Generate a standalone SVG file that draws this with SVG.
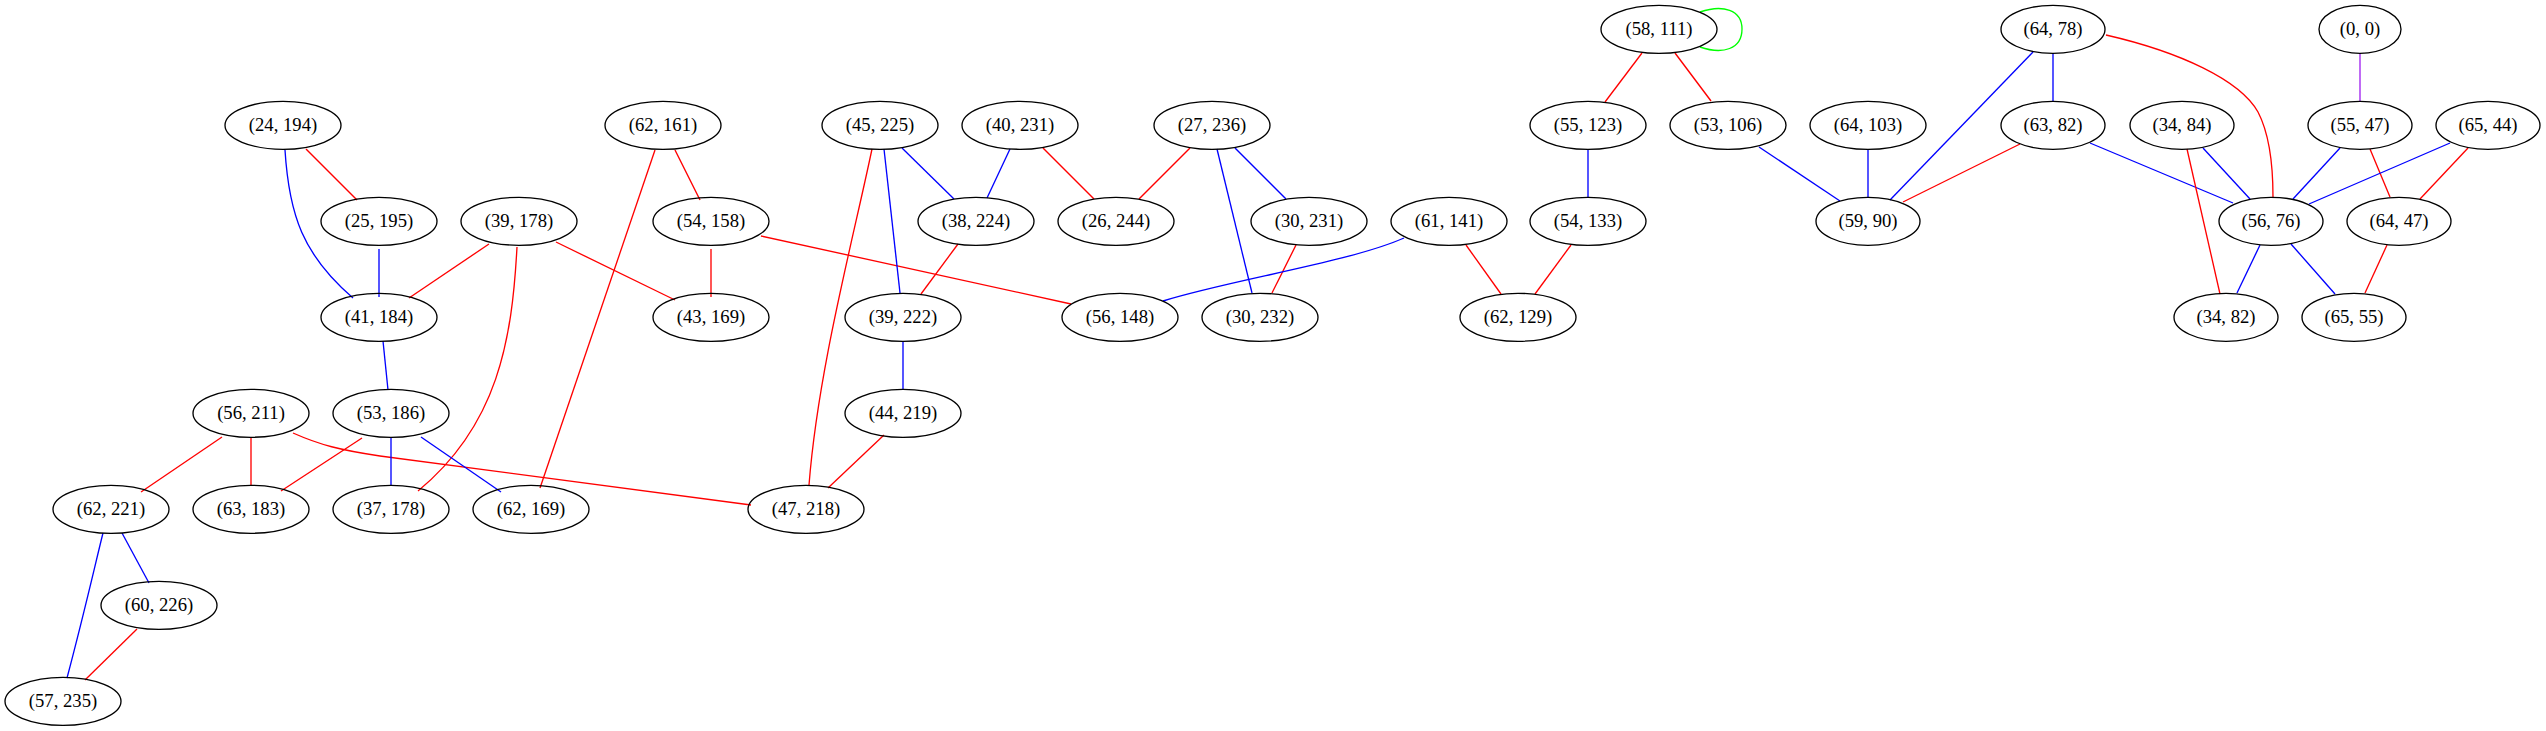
<svg xmlns="http://www.w3.org/2000/svg" width="2546" height="731" viewBox="0 0 2546 731">
<style>
.n ellipse{fill:none;stroke:#000;stroke-width:1.33}
.n text{font-family:"Liberation Serif","Times New Roman",serif;font-size:18.67px;text-anchor:middle;fill:#000}
#edges path{fill:none;stroke-width:1.33}
.r{stroke:#ff0000}.b{stroke:#0000ff}.g{stroke:#00ff00}.p{stroke:#a020f0}
</style>
<rect width="2546" height="731" fill="#fff"/>
<g id="edges">
<path class="r" d="M306,149L357,200"/>
<path class="b" d="M285,150C289,215 303,255 353,298"/>
<path class="b" d="M379,249L379,297"/>
<path class="r" d="M489,244L409,298"/>
<path class="r" d="M556,242L675,300"/>
<path class="r" d="M517,247C512,340 498,425 418,491"/>
<path class="r" d="M675,150L700,200"/>
<path class="r" d="M655,150L540,488"/>
<path class="r" d="M711,249L711,297"/>
<path class="r" d="M761,236L1071,304"/>
<path class="b" d="M383,341L388,390"/>
<path class="r" d="M222,437L141,492"/>
<path class="r" d="M251,437L251,485"/>
<path class="r" d="M293,433C320,445 340,450 380,456L751,505"/>
<path class="r" d="M362,438L281,491"/>
<path class="b" d="M391,437L391,485"/>
<path class="b" d="M421,437L501,492"/>
<path class="b" d="M122,533L149,583"/>
<path class="b" d="M103,533C95,565 85,610 67,678"/>
<path class="r" d="M137,629L85,680"/>
<path class="r" d="M872,149C853,240 818,370 809,485"/>
<path class="r" d="M884,435L828,488"/>
<path class="b" d="M902,148L954,199"/>
<path class="b" d="M884,149L900,293"/>
<path class="b" d="M1010,149L987,198"/>
<path class="r" d="M1043,148L1094,199"/>
<path class="r" d="M1190,148L1139,199"/>
<path class="b" d="M1235,148L1286,199"/>
<path class="b" d="M1217,149L1252,293"/>
<path class="r" d="M958,244L921,294"/>
<path class="r" d="M1296,245L1272,293"/>
<path class="b" d="M1404,238C1350,262 1230,280 1163,301"/>
<path class="r" d="M1466,245L1501,294"/>
<path class="r" d="M1571,245L1535,294"/>
<path class="b" d="M1588,149L1588,197"/>
<path class="r" d="M1642,53L1605,102"/>
<path class="r" d="M1675,53L1711,101"/>
<path class="b" d="M903,341L903,389"/>
<path class="g" d="M1700,12C1723,4 1742,10 1742,29C1742,49 1723,55 1700,47"/>
<path class="b" d="M1759,147L1840,201"/>
<path class="b" d="M1868,149L1868,197"/>
<path class="b" d="M2033,52L1890,200"/>
<path class="b" d="M2053,53L2053,101"/>
<path class="r" d="M2106,35C2180,52 2240,80 2258,112C2270,135 2273,165 2273,197"/>
<path class="r" d="M2020,144L1903,202"/>
<path class="b" d="M2090,143L2233,203"/>
<path class="b" d="M2203,148L2250,199"/>
<path class="r" d="M2187,149L2220,294"/>
<path class="b" d="M2340,148L2293,199"/>
<path class="r" d="M2370,149L2390,197"/>
<path class="b" d="M2450,143L2309,204"/>
<path class="r" d="M2468,148L2420,199"/>
<path class="p" d="M2360,53L2360,101"/>
<path class="b" d="M2260,245L2237,293"/>
<path class="b" d="M2291,244L2335,294"/>
<path class="r" d="M2387,245L2365,293"/>
</g>
<g id="n24_194" class="n"><ellipse cx="283" cy="125.3" rx="58" ry="24"/><text x="283" y="131">(24, 194)</text></g>
<g id="n62_161" class="n"><ellipse cx="663" cy="125.3" rx="58" ry="24"/><text x="663" y="131">(62, 161)</text></g>
<g id="n25_195" class="n"><ellipse cx="379" cy="221.3" rx="58" ry="24"/><text x="379" y="227">(25, 195)</text></g>
<g id="n39_178" class="n"><ellipse cx="519" cy="221.3" rx="58" ry="24"/><text x="519" y="227">(39, 178)</text></g>
<g id="n54_158" class="n"><ellipse cx="711" cy="221.3" rx="58" ry="24"/><text x="711" y="227">(54, 158)</text></g>
<g id="n41_184" class="n"><ellipse cx="379" cy="317.3" rx="58" ry="24"/><text x="379" y="323">(41, 184)</text></g>
<g id="n43_169" class="n"><ellipse cx="711" cy="317.3" rx="58" ry="24"/><text x="711" y="323">(43, 169)</text></g>
<g id="n56_211" class="n"><ellipse cx="251" cy="413.3" rx="58" ry="24"/><text x="251" y="419">(56, 211)</text></g>
<g id="n53_186" class="n"><ellipse cx="391" cy="413.3" rx="58" ry="24"/><text x="391" y="419">(53, 186)</text></g>
<g id="n62_221" class="n"><ellipse cx="111" cy="509.3" rx="58" ry="24"/><text x="111" y="515">(62, 221)</text></g>
<g id="n63_183" class="n"><ellipse cx="251" cy="509.3" rx="58" ry="24"/><text x="251" y="515">(63, 183)</text></g>
<g id="n37_178" class="n"><ellipse cx="391" cy="509.3" rx="58" ry="24"/><text x="391" y="515">(37, 178)</text></g>
<g id="n62_169" class="n"><ellipse cx="531" cy="509.3" rx="58" ry="24"/><text x="531" y="515">(62, 169)</text></g>
<g id="n47_218" class="n"><ellipse cx="806" cy="509.3" rx="58" ry="24"/><text x="806" y="515">(47, 218)</text></g>
<g id="n60_226" class="n"><ellipse cx="159" cy="605.3" rx="58" ry="24"/><text x="159" y="611">(60, 226)</text></g>
<g id="n57_235" class="n"><ellipse cx="63" cy="701.3" rx="58" ry="24"/><text x="63" y="707">(57, 235)</text></g>
<g id="n58_111" class="n"><ellipse cx="1659" cy="29.3" rx="58" ry="24"/><text x="1659" y="35">(58, 111)</text></g>
<g id="n45_225" class="n"><ellipse cx="880" cy="125.3" rx="58" ry="24"/><text x="880" y="131">(45, 225)</text></g>
<g id="n40_231" class="n"><ellipse cx="1020" cy="125.3" rx="58" ry="24"/><text x="1020" y="131">(40, 231)</text></g>
<g id="n27_236" class="n"><ellipse cx="1212" cy="125.3" rx="58" ry="24"/><text x="1212" y="131">(27, 236)</text></g>
<g id="n55_123" class="n"><ellipse cx="1588" cy="125.3" rx="58" ry="24"/><text x="1588" y="131">(55, 123)</text></g>
<g id="n53_106" class="n"><ellipse cx="1728" cy="125.3" rx="58" ry="24"/><text x="1728" y="131">(53, 106)</text></g>
<g id="n38_224" class="n"><ellipse cx="976" cy="221.3" rx="58" ry="24"/><text x="976" y="227">(38, 224)</text></g>
<g id="n26_244" class="n"><ellipse cx="1116" cy="221.3" rx="58" ry="24"/><text x="1116" y="227">(26, 244)</text></g>
<g id="n30_231" class="n"><ellipse cx="1309" cy="221.3" rx="58" ry="24"/><text x="1309" y="227">(30, 231)</text></g>
<g id="n61_141" class="n"><ellipse cx="1449" cy="221.3" rx="58" ry="24"/><text x="1449" y="227">(61, 141)</text></g>
<g id="n54_133" class="n"><ellipse cx="1588" cy="221.3" rx="58" ry="24"/><text x="1588" y="227">(54, 133)</text></g>
<g id="n39_222" class="n"><ellipse cx="903" cy="317.3" rx="58" ry="24"/><text x="903" y="323">(39, 222)</text></g>
<g id="n56_148" class="n"><ellipse cx="1120" cy="317.3" rx="58" ry="24"/><text x="1120" y="323">(56, 148)</text></g>
<g id="n30_232" class="n"><ellipse cx="1260" cy="317.3" rx="58" ry="24"/><text x="1260" y="323">(30, 232)</text></g>
<g id="n62_129" class="n"><ellipse cx="1518" cy="317.3" rx="58" ry="24"/><text x="1518" y="323">(62, 129)</text></g>
<g id="n44_219" class="n"><ellipse cx="903" cy="413.3" rx="58" ry="24"/><text x="903" y="419">(44, 219)</text></g>
<g id="n64_78" class="n"><ellipse cx="2053" cy="29.3" rx="52" ry="24"/><text x="2053" y="35">(64, 78)</text></g>
<g id="n0_0" class="n"><ellipse cx="2360" cy="29.3" rx="41" ry="24"/><text x="2360" y="35">(0, 0)</text></g>
<g id="n64_103" class="n"><ellipse cx="1868" cy="125.3" rx="58" ry="24"/><text x="1868" y="131">(64, 103)</text></g>
<g id="n63_82" class="n"><ellipse cx="2053" cy="125.3" rx="52" ry="24"/><text x="2053" y="131">(63, 82)</text></g>
<g id="n34_84" class="n"><ellipse cx="2182" cy="125.3" rx="52" ry="24"/><text x="2182" y="131">(34, 84)</text></g>
<g id="n55_47" class="n"><ellipse cx="2360" cy="125.3" rx="52" ry="24"/><text x="2360" y="131">(55, 47)</text></g>
<g id="n65_44" class="n"><ellipse cx="2488" cy="125.3" rx="52" ry="24"/><text x="2488" y="131">(65, 44)</text></g>
<g id="n59_90" class="n"><ellipse cx="1868" cy="221.3" rx="52" ry="24"/><text x="1868" y="227">(59, 90)</text></g>
<g id="n56_76" class="n"><ellipse cx="2271" cy="221.3" rx="52" ry="24"/><text x="2271" y="227">(56, 76)</text></g>
<g id="n64_47" class="n"><ellipse cx="2399" cy="221.3" rx="52" ry="24"/><text x="2399" y="227">(64, 47)</text></g>
<g id="n34_82" class="n"><ellipse cx="2226" cy="317.3" rx="52" ry="24"/><text x="2226" y="323">(34, 82)</text></g>
<g id="n65_55" class="n"><ellipse cx="2354" cy="317.3" rx="52" ry="24"/><text x="2354" y="323">(65, 55)</text></g>
</svg>
